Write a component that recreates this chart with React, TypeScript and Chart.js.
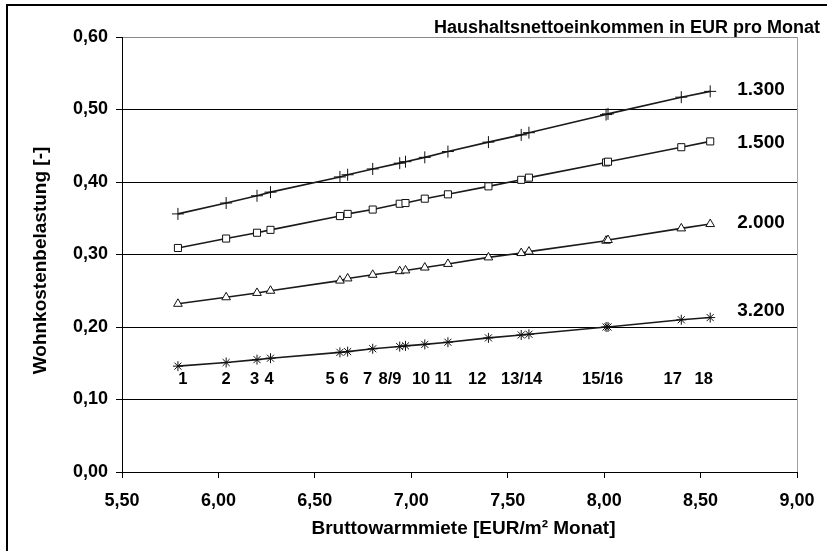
import { useEffect, useRef } from 'react';
import { Chart, registerables } from 'chart.js';

Chart.register(...registerables);

// Bruttowarmmiete [EUR/m² Monat] for the 18 cases
const rent = [5.79, 6.04, 6.20, 6.27, 6.63, 6.67, 6.80, 6.94, 6.97, 7.07, 7.19, 7.40, 7.57, 7.61, 8.01, 8.02, 8.40, 8.55];
// Wohnkostenbelastung per household net income
const burden1300 = [0.356, 0.371, 0.381, 0.386, 0.407, 0.410, 0.418, 0.426, 0.428, 0.434, 0.442, 0.455, 0.465, 0.468, 0.493, 0.494, 0.517, 0.525];
const burden1500 = [0.309, 0.322, 0.330, 0.334, 0.353, 0.356, 0.362, 0.370, 0.371, 0.377, 0.383, 0.394, 0.403, 0.406, 0.427, 0.428, 0.448, 0.456];
const burden2000 = [0.232, 0.241, 0.247, 0.250, 0.264, 0.267, 0.272, 0.277, 0.278, 0.282, 0.287, 0.296, 0.302, 0.304, 0.319, 0.320, 0.336, 0.342];
const burden3200 = [0.146, 0.151, 0.155, 0.157, 0.165, 0.166, 0.170, 0.173, 0.174, 0.176, 0.179, 0.185, 0.189, 0.190, 0.200, 0.200, 0.210, 0.213];
const incomeLabels = ['1.300', '1.500', '2.000', '3.200'];
// case number labels under the 3.200 line
const caseLabels = ['1', '2', '3', '4', '5', '6', '7', '8/9', '10', '11', '12', '13/14', '15/16', '17', '18'];
const caseLabelRent = [5.816, 6.040, 6.187, 6.263, 6.579, 6.652, 6.774, 6.890, 7.051, 7.166, 7.342, 7.572, 7.992, 8.356, 8.516];
const caseLabelBurden = 0.128;

const chartTitle = 'Haushaltsnettoeinkommen in EUR pro Monat';
const xTitle = 'Bruttowarmmiete [EUR/m² Monat]';
const yTitle = 'Wohnkostenbelastung [-]';

const FONT = '"Liberation Sans", Arial, sans-serif';
const fmt = (v: number) => v.toFixed(2).replace('.', ',');

const series = [burden1300, burden1500, burden2000, burden3200];
const styles = ['cross', 'rect', 'triangle', 'star'];
const radii = [6, 5, 5, 5];
const labelDy = [-2, 1, -1, -7];

export default function App() {
  const ref = useRef<HTMLCanvasElement | null>(null);
  useEffect(() => {
    const canvas = ref.current;
    if (!canvas) return;
    const textPlugin = {
      id: 'texts',
      afterDraw(chart: any) {
        const ctx = chart.ctx;
        const xs = chart.scales.x;
        const ys = chart.scales.y;
        ctx.save();
        ctx.fillStyle = '#000';
        // frame
        ctx.strokeStyle = '#000';
        ctx.lineWidth = 2;
        ctx.beginPath();
        ctx.moveTo(7, 560);
        ctx.lineTo(7, 5);
        ctx.lineTo(830, 5);
        ctx.stroke();
        // right plot border
        ctx.strokeStyle = '#a0a0a0';
        ctx.lineWidth = 1;
        ctx.beginPath();
        ctx.moveTo(Math.round(chart.chartArea.right) + 0.5, chart.chartArea.top);
        ctx.lineTo(Math.round(chart.chartArea.right) + 0.5, chart.chartArea.bottom);
        ctx.stroke();
        // chart title
        ctx.font = `bold 18px ${FONT}`;
        ctx.textAlign = 'right';
        ctx.textBaseline = 'alphabetic';
        ctx.fillText(chartTitle, 820, 33);
        // x title
        ctx.font = `bold 19px ${FONT}`;
        ctx.textAlign = 'center';
        ctx.textBaseline = 'middle';
        ctx.fillText(xTitle, (xs.left + xs.right) / 2 + 4, 529);
        // y title
        ctx.save();
        ctx.translate(41, (ys.top + ys.bottom) / 2 + 6);
        ctx.rotate(-Math.PI / 2);
        ctx.fillText(yTitle, 0, 0);
        ctx.restore();
        // income labels
        ctx.font = `bold 19px ${FONT}`;
        ctx.textAlign = 'left';
        series.forEach((s, i) => {
          const n = s.length - 1;
          ctx.fillText(incomeLabels[i], xs.getPixelForValue(rent[n]) + 27, ys.getPixelForValue(s[n]) + labelDy[i]);
        });
        // case labels
        ctx.font = `bold 16.5px ${FONT}`;
        ctx.textAlign = 'center';
        caseLabels.forEach((t, i) => {
          ctx.fillText(t, xs.getPixelForValue(caseLabelRent[i]), ys.getPixelForValue(caseLabelBurden));
        });
        ctx.restore();
      },
    };
    const chart = new Chart(canvas, {
      type: 'line',
      data: {
        datasets: series.map((s, i) => ({
          label: incomeLabels[i],
          data: s.map((v, j) => ({ x: rent[j], y: v })),
          borderColor: '#1a1a1a',
          borderWidth: 1.6,
          pointStyle: styles[i] as any,
          pointRadius: radii[i],
          pointBorderColor: '#111',
          pointBackgroundColor: '#fff',
          pointBorderWidth: 1,
          fill: false,
          tension: 0,
        })),
      },
      options: {
        animation: false,
        responsive: false,
        devicePixelRatio: 1,
        layout: { padding: { top: 37, right: 30, left: 0, bottom: 0 } },
        plugins: { legend: { display: false }, tooltip: { enabled: false }, title: { display: false } },
        scales: {
          x: {
            type: 'linear',
            min: 5.5,
            max: 9,
            afterFit: (s: any) => { s.height = 79; },
            ticks: {
              stepSize: 0.5,
              padding: 12,
              color: '#000',
              font: { family: FONT, size: 18, weight: 'bold' },
              callback: (v: any) => fmt(Number(v)),
              maxRotation: 0,
            },
            grid: {
              drawOnChartArea: false,
              color: '#000',
              tickColor: '#000',
              tickLength: 6,
            },
            border: { color: '#000', width: 1 },
          },
          y: {
            min: 0,
            max: 0.6,
            afterFit: (s: any) => { s.width = 122; },
            ticks: {
              stepSize: 0.1,
              padding: 8,
              color: '#000',
              font: { family: FONT, size: 18, weight: 'bold' },
              callback: (v: any) => fmt(Number(v)),
            },
            grid: {
              color: (c: any) => (c.tick && Math.abs(c.tick.value - 0.6) < 1e-6 ? '#888' : '#000'),
              tickColor: '#000',
              tickLength: 6,
              lineWidth: 1,
            },
            border: { color: '#000', width: 1 },
          },
        },
      },
      plugins: [textPlugin],
    });
    return () => chart.destroy();
  }, []);
  return (
    <div style={{ position: 'fixed', left: 0, top: 0, width: 827, height: 551, background: '#fff' }}>
      <canvas ref={ref} width={827} height={551} style={{ display: 'block' }} />
    </div>
  );
}
